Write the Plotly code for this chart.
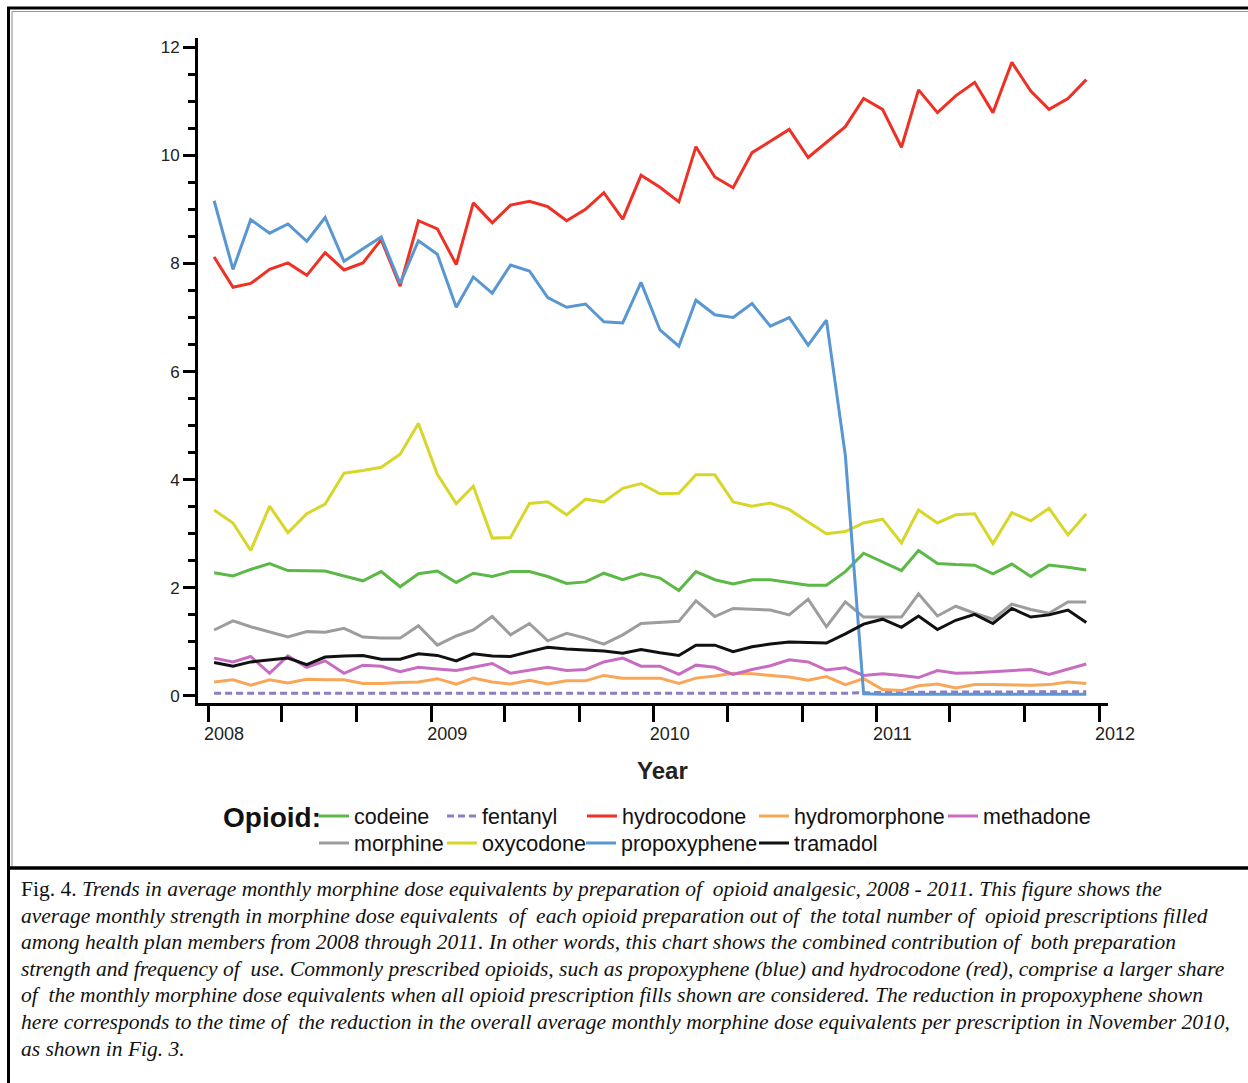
import pandas as pd
import plotly.graph_objects as go

# Monthly observations, Jan 2008 - Dec 2011
months = pd.date_range("2008-01-01", periods=48, freq="MS") + pd.Timedelta(days=10)

codeine = [2.28, 2.22, 2.34, 2.45, 2.32, 2.32, 2.31, 2.22, 2.13, 2.30,
           2.02, 2.26, 2.31, 2.10, 2.27, 2.21, 2.30, 2.30, 2.21, 2.08,
           2.11, 2.27, 2.15, 2.26, 2.18, 1.95, 2.30, 2.15, 2.07, 2.15,
           2.15, 2.10, 2.05, 2.05, 2.30, 2.64, 2.48, 2.32, 2.69, 2.45,
           2.43, 2.42, 2.26, 2.44, 2.21, 2.42, 2.38, 2.33]
fentanyl = [0.05, 0.05, 0.05, 0.05, 0.05, 0.05, 0.05, 0.05, 0.05, 0.05,
            0.05, 0.05, 0.05, 0.05, 0.04, 0.04, 0.04, 0.04, 0.04, 0.04,
            0.04, 0.04, 0.04, 0.04, 0.04, 0.04, 0.04, 0.04, 0.04, 0.04,
            0.05, 0.05, 0.05, 0.05, 0.05, 0.06, 0.07, 0.07, 0.07, 0.07,
            0.07, 0.07, 0.07, 0.08, 0.08, 0.08, 0.08, 0.08]
hydrocodone = [8.12, 7.56, 7.63, 7.89, 8.01, 7.78, 8.20, 7.88, 8.01, 8.44,
               7.58, 8.79, 8.64, 7.98, 9.12, 8.75, 9.08, 9.15, 9.05, 8.79,
               9.00, 9.31, 8.82, 9.63, 9.41, 9.14, 10.16, 9.60, 9.40, 10.05,
               10.26, 10.48, 9.96, 10.24, 10.53, 11.05, 10.85, 10.15, 11.21, 10.79,
               11.10, 11.35, 10.79, 11.72, 11.19, 10.85, 11.05, 11.40]
hydromorphone = [0.26, 0.30, 0.20, 0.30, 0.24, 0.31, 0.30, 0.30, 0.23, 0.23,
                 0.25, 0.26, 0.32, 0.22, 0.33, 0.26, 0.22, 0.29, 0.22, 0.28,
                 0.28, 0.38, 0.33, 0.33, 0.33, 0.23, 0.33, 0.37, 0.42, 0.41,
                 0.38, 0.35, 0.29, 0.36, 0.21, 0.32, 0.12, 0.10, 0.19, 0.22,
                 0.15, 0.21, 0.21, 0.20, 0.20, 0.21, 0.26, 0.23]
methadone = [0.70, 0.63, 0.73, 0.42, 0.74, 0.53, 0.65, 0.42, 0.57, 0.55,
             0.45, 0.53, 0.50, 0.47, 0.53, 0.60, 0.42, 0.48, 0.53, 0.47,
             0.49, 0.63, 0.70, 0.55, 0.55, 0.40, 0.57, 0.53, 0.40, 0.49,
             0.56, 0.67, 0.63, 0.48, 0.52, 0.38, 0.41, 0.38, 0.34, 0.47,
             0.42, 0.43, 0.45, 0.47, 0.49, 0.40, 0.49, 0.59]
morphine = [1.22, 1.39, 1.28, 1.19, 1.09, 1.19, 1.18, 1.25, 1.09, 1.07,
            1.07, 1.30, 0.94, 1.11, 1.22, 1.47, 1.13, 1.34, 1.02, 1.16,
            1.07, 0.96, 1.13, 1.34, 1.36, 1.38, 1.76, 1.47, 1.62, 1.61,
            1.59, 1.50, 1.79, 1.28, 1.74, 1.46, 1.46, 1.46, 1.89, 1.48,
            1.66, 1.53, 1.42, 1.70, 1.60, 1.53, 1.74, 1.74]
oxycodone = [3.44, 3.20, 2.69, 3.51, 3.02, 3.37, 3.55, 4.12, 4.17, 4.23,
             4.47, 5.04, 4.10, 3.56, 3.88, 2.92, 2.93, 3.56, 3.59, 3.35,
             3.64, 3.59, 3.84, 3.93, 3.74, 3.75, 4.09, 4.09, 3.59, 3.51,
             3.57, 3.45, 3.22, 3.00, 3.04, 3.20, 3.27, 2.83, 3.44, 3.20,
             3.35, 3.37, 2.82, 3.39, 3.24, 3.47, 2.98, 3.37]
propoxyphene = [9.16, 7.89, 8.81, 8.56, 8.73, 8.41, 8.85, 8.04, 8.27, 8.49,
                7.63, 8.42, 8.17, 7.19, 7.75, 7.45, 7.97, 7.86, 7.37, 7.19,
                7.25, 6.92, 6.90, 7.65, 6.77, 6.47, 7.32, 7.05, 7.00, 7.26,
                6.84, 7.00, 6.49, 6.95, 4.45, 0.04, 0.03, 0.03, 0.03, 0.03,
                0.03, 0.03, 0.03, 0.03, 0.03, 0.03, 0.03, 0.03]
tramadol = [0.62, 0.55, 0.63, 0.67, 0.70, 0.58, 0.72, 0.74, 0.75, 0.68,
            0.68, 0.78, 0.75, 0.65, 0.78, 0.74, 0.73, 0.82, 0.90, 0.87,
            0.85, 0.83, 0.79, 0.86, 0.80, 0.75, 0.94, 0.94, 0.82, 0.91,
            0.96, 1.00, 0.99, 0.98, 1.15, 1.33, 1.42, 1.27, 1.48, 1.23,
            1.40, 1.51, 1.34, 1.62, 1.46, 1.50, 1.59, 1.36]

y_ticks = [0, 2, 4, 6, 8, 10, 12]
x_ticks = pd.date_range("2008-01-01", "2012-01-01", freq="4MS")
x_tick_labels = [str(d.year) if d.month == 1 else "" for d in x_ticks]

caption_lines = [
    "Fig. 4. <i>Trends in average monthly morphine dose equivalents by preparation of  opioid analgesic, 2008 - 2011. This figure shows the</i>",
    "<i>average monthly strength in morphine dose equivalents  of  each opioid preparation out of  the total number of  opioid prescriptions filled</i>",
    "<i>among health plan members from 2008 through 2011. In other words, this chart shows the combined contribution of  both preparation</i>",
    "<i>strength and frequency of  use. Commonly prescribed opioids, such as propoxyphene (blue) and hydrocodone (red), comprise a larger share</i>",
    "<i>of  the monthly morphine dose equivalents when all opioid prescription fills shown are considered. The reduction in propoxyphene shown</i>",
    "<i>here corresponds to the time of  the reduction in the overall average monthly morphine dose equivalents per prescription in November 2010,</i>",
    "<i>as shown in Fig. 3.</i>",
]

W, H = 1248, 1083
PL, PR, PT, PB = 198, 1108, 38, 703   # plot area edges in pixels


def fx(x):
    return (x - PL) / (PR - PL)


def fy(y):
    return (PB - y) / (PB - PT)


SANS = "Liberation Sans, Arial, Helvetica, sans-serif"
SERIF = "Liberation Serif, Times New Roman, serif"

# name, values, colour, dash, legend column text-x, legend row text-y
series = [
    ("codeine", codeine, "#5cb947", "solid", 357, 816),
    ("fentanyl", fentanyl, "#8f7cc4", "7px,4px", 485, 816),
    ("hydrocodone", hydrocodone, "#ee3124", "solid", 625, 816),
    ("hydromorphone", hydromorphone, "#f9a657", "solid", 797, 816),
    ("methadone", methadone, "#c86cc2", "solid", 986, 816),
    ("morphine", morphine, "#9d9d9d", "solid", 357, 843),
    ("oxycodone", oxycodone, "#d8d62b", "solid", 485, 843),
    ("propoxyphene", propoxyphene, "#5897d1", "solid", 624, 843),
    ("tramadol", tramadol, "#111111", "solid", 797, 843),
]

fig = go.Figure()
legend_layouts = {}
for i, (name, vals, color, dash, lx, ly) in enumerate(series):
    key = "legend" if i == 0 else f"legend{i + 1}"
    fig.add_trace(go.Scatter(
        x=months, y=vals, mode="lines", name=name,
        line=dict(color=color, width=3, dash=dash),
        legend=key, showlegend=True,
    ))
    legend_layouts[key] = dict(
        x=fx(lx - 43), y=fy(ly), xanchor="left", yanchor="middle",
        orientation="v", bgcolor="rgba(0,0,0,0)", borderwidth=0,
        font=dict(family=SANS, size=21.5, color="#111111"),
        itemwidth=30, tracegroupgap=0,
    )

fig.update_layout(
    width=W, height=H,
    margin=dict(l=PL, r=W - PR, t=PT, b=H - PB, pad=0),
    paper_bgcolor="white", plot_bgcolor="white",
    showlegend=True,
    **legend_layouts,
)

fig.update_xaxes(
    type="date",
    range=["2007-12-15 14:00", "2012-01-15 16:00"],
    tickvals=list(x_ticks), ticktext=x_tick_labels,
    ticks="outside", ticklen=16, tickwidth=3, tickcolor="black",
    showline=True, linewidth=3, linecolor="black",
    showgrid=False, zeroline=False,
    tickfont=dict(family=SANS, size=18, color="#222222"),
    ticklabelshift=16, ticklabelstandoff=-4,
)
fig.update_yaxes(
    range=[-0.13, 12.17],
    tickvals=y_ticks,
    ticks="outside", ticklen=12, tickwidth=2.5, tickcolor="black",
    minor=dict(dtick=0.5, tick0=0, ticks="outside", ticklen=7,
               tickwidth=2.5, tickcolor="black", showgrid=False),
    showline=True, linewidth=3, linecolor="black",
    showgrid=False, zeroline=False,
    tickfont=dict(family=SANS, size=17, color="#222222"),
)

annotations = [
    dict(text="<b>Year</b>", x=fx(662), y=fy(770), xref="paper", yref="paper",
         xanchor="center", yanchor="middle", showarrow=False,
         font=dict(family=SANS, size=24, color="#222222")),
    dict(text="<b>Opioid:</b>", x=fx(221), y=fy(817), xref="paper", yref="paper",
         xanchor="left", yanchor="middle", showarrow=False,
         font=dict(family=SANS, size=28, color="#111111")),
]
for k, line in enumerate(caption_lines):
    annotations.append(dict(
        text=line, x=fx(19), y=fy(889 + k * 26.6), xref="paper", yref="paper",
        xanchor="left", yanchor="middle", showarrow=False, align="left",
        font=dict(family=SERIF, size=21.5, color="#111111"),
    ))
fig.update_layout(annotations=annotations)

# Frame around the figure and rule above the caption
shapes = [
    dict(type="line", x0=fx(7), x1=fx(W), y0=fy(8), y1=fy(8),
         line=dict(color="black", width=3)),
    dict(type="line", x0=fx(8.5), x1=fx(8.5), y0=fy(7), y1=fy(H),
         line=dict(color="black", width=3)),
    dict(type="line", x0=fx(12), x1=fx(W), y0=fy(11.5), y1=fy(11.5),
         line=dict(color="#9a9a9a", width=1.2)),
    dict(type="line", x0=fx(12), x1=fx(12), y0=fy(11.5), y1=fy(867),
         line=dict(color="#9a9a9a", width=1.2)),
    dict(type="line", x0=fx(7), x1=fx(W), y0=fy(868), y1=fy(868),
         line=dict(color="black", width=3.5)),
]
for s in shapes:
    s.update(xref="paper", yref="paper", layer="above")
fig.update_layout(shapes=shapes)

fig.write_html("out.html")
